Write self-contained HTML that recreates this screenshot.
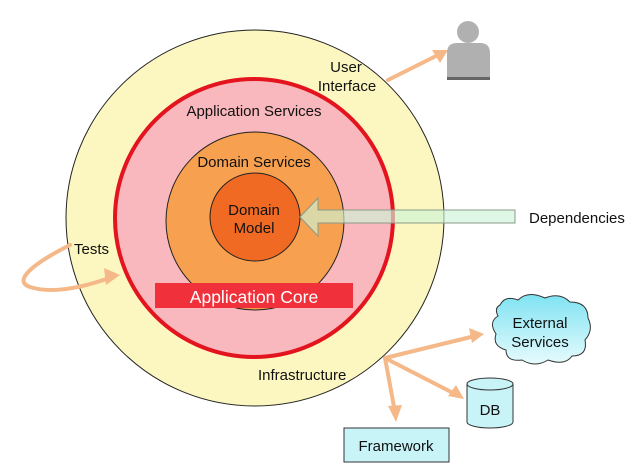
<!DOCTYPE html>
<html><head><meta charset="utf-8"><style>
html,body{margin:0;padding:0;background:#fff;}
svg{display:block;}
text{font-family:"Liberation Sans",sans-serif;fill:#111;}
</style></head><body>
<svg width="640" height="471" viewBox="0 0 640 471" xmlns="http://www.w3.org/2000/svg">
<defs>
<linearGradient id="cg" x1="0" y1="0" x2="0" y2="1"><stop offset="0" stop-color="#7fe3f2"/><stop offset="1" stop-color="#e6fbfd"/></linearGradient>
</defs>
<ellipse cx="255" cy="218" rx="189" ry="188" fill="#fcf7c0" stroke="#222" stroke-width="1"/>
<ellipse cx="254" cy="218" rx="139" ry="139" fill="#f9b8bd" stroke="#e3141e" stroke-width="4"/>
<ellipse cx="255" cy="221" rx="89" ry="89" fill="#f7a04f" stroke="#222" stroke-width="1"/>
<ellipse cx="255" cy="217" rx="45" ry="44" fill="#f06a23" stroke="#222" stroke-width="1"/>
<rect x="155" y="283" width="198" height="25" fill="#f0303a"/>
<text x="254" y="303" font-size="17.5" text-anchor="middle" style="fill:#fff">Application Core</text>
<path d="M300 217 L318 198 L318 210 L515 210 L515 223 L318 223 L318 236 Z" fill="rgba(205,245,215,0.65)" stroke="#8a9a8a" stroke-width="1"/>
<text x="346" y="72" font-size="15" text-anchor="middle">User</text>
<text x="347" y="91" font-size="15" text-anchor="middle">Interface</text>
<text x="254" y="116" font-size="15" text-anchor="middle">Application Services</text>
<text x="254" y="167" font-size="15" text-anchor="middle">Domain Services</text>
<text x="254" y="215" font-size="15" text-anchor="middle">Domain</text>
<text x="254" y="233" font-size="15" text-anchor="middle">Model</text>
<text x="74" y="254" font-size="15">Tests</text>
<text x="529" y="223" font-size="15">Dependencies</text>
<text x="258" y="380" font-size="15">Infrastructure</text>
<g stroke="#f5b888" stroke-width="4" fill="none" stroke-linecap="round">
<path d="M70 245 C40 260 10 280 30 287 C55 295 90 285 112 277"/>
<line x1="388" y1="80" x2="440" y2="54"/>
<line x1="385" y1="358" x2="475" y2="336"/>
<line x1="385" y1="358" x2="455" y2="394"/>
<line x1="385" y1="358" x2="395" y2="412"/>
</g>
<g fill="#f5b888">
<path d="M120 275 L104 268 L106 285 Z"/>
<path d="M448 50 L432 50 L440 63 Z"/>
<path d="M484 334 L469 328 L472 343 Z"/>
<path d="M464 399 L448 396 L456 385 Z"/>
<path d="M396 422 L388 406 L402 405 Z"/>
</g>
<circle cx="468" cy="32" r="11" fill="#b0b0b0"/>
<path d="M447 80 L447 53 Q447 43 457 43 L480 43 Q490 43 490 53 L490 80 Z" fill="#b0b0b0"/>
<rect x="447" y="77" width="43" height="3" fill="#666"/>
<path d="M500 305 Q505 295 518 300 Q528 290 545 298 Q560 292 570 302 Q588 302 588 318 Q594 330 585 340 Q588 356 572 356 Q565 366 548 360 Q535 368 522 360 Q506 362 506 350 Q492 346 496 334 Q488 322 498 316 Q494 308 500 305 Z" fill="url(#cg)" stroke="#333" stroke-width="1"/>
<text x="540" y="328" font-size="15" text-anchor="middle">External</text>
<text x="540" y="347" font-size="15" text-anchor="middle">Services</text>
<path d="M467 384 L467 422 A23 6 0 0 0 513 422 L513 384" fill="#c8f4f8" stroke="#333" stroke-width="1"/>
<ellipse cx="490" cy="384" rx="23" ry="6" fill="#c8f4f8" stroke="#333" stroke-width="1"/>
<text x="490" y="415" font-size="15" text-anchor="middle">DB</text>
<rect x="344" y="428" width="105" height="34" fill="#c8f4f8" stroke="#333" stroke-width="1"/>
<text x="396" y="451" font-size="15" text-anchor="middle">Framework</text>
</svg>
</body></html>
